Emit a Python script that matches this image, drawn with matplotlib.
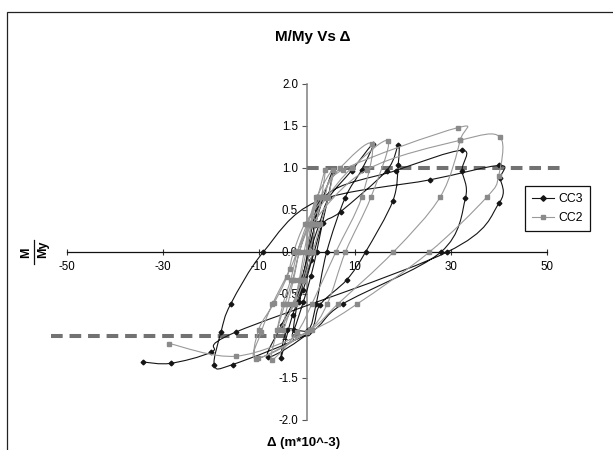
import numpy as np
import matplotlib
matplotlib.use("Agg")
import matplotlib.pyplot as plt
from matplotlib.path import Path
from matplotlib.patches import PathPatch, Rectangle
from matplotlib.lines import Line2D

plt.rcParams['font.family'] = ['Liberation Sans', 'DejaVu Sans']

# ---- data -------------------------------------------------------------
# CC3 specimen: displacement (m*10^-3) and normalised moment M/My
cc3_x = [0, 1.2, 2.4, 1.6, 0.6, -0.6, -1.6, -0.8, 0.2,
         1.8, 3.4, 5.4, 4.4, 3.2, 2.0, 0.8, -0.8, -2.8, -2.0, -1.0, 0.6,
         2.6, 4.6, 9.3, 13.8, 11.4, 7.9, 4.1, 1.9, 0.2, -4.1, -5.4, -3.0, -0.8, 1.5,
         3.4, 7.0, 16.6, 19.0, 19.0, 17.9, 12.2, 8.3, 2.7, 0.5, -8.1, -5.3, -2.0, 0.8,
         3.7, 18.5, 32.3, 32.3, 33.0, 27.9, 7.4, 0.3, -15.5, -19.3, -17.9, -15.9, -9.1,
         2.0, 25.7, 40.1, 40.3, 40.0, 29.2, -14.7, -19.9, -28.4, -34.1]
cc3_y = [0, 0.33, 0.64, 0.32, 0, -0.30, -0.60, -0.30, 0,
         0.34, 0.65, 0.97, 0.65, 0.34, 0, -0.29, -0.60, -0.93, -0.60, -0.30, 0,
         0.34, 0.65, 0.97, 1.29, 0.98, 0.64, 0, -0.62, -0.93, -0.93, -1.26, -0.75, -0.45, 0,
         0.34, 0.48, 0.97, 1.27, 1.04, 0.61, 0, -0.33, -0.63, -0.95, -1.25, -0.87, -0.50, -0.10,
         0.66, 0.97, 1.21, 0.97, 0.64, 0, -0.62, -0.97, -1.34, -1.35, -0.95, -0.62, 0,
         0.60, 0.86, 1.03, 0.88, 0.58, 0, -0.95, -1.19, -1.325, -1.31]

# CC2 specimen
cc2_x = [0, 0.8, 1.8, 1.0, -0.2, -1.4, -2.6, -1.6, -0.6,
         0.6, 2.2, 3.8, 3.0, 1.8, 0.6, -1.0, -3.0, -5.0, -4.0, -2.8, -1.6,
         0.2, 2.0, 5.4, 4.4, 2.8, 1.2, -0.6, -2.6, -6.0, -5.0, -3.4, -2.0,
         0.0, 2.8, 6.9, 13.5, 11.4, 6.0, 1.0, -2.0, -7.3, -6.2, -4.6, -3.0, -1.6,
         0.6, 4.0, 9.3, 16.9, 13.3, 8.0, 4.2, 0.0, -10.2, -10.1, -6.9, -4.2, -2.8,
         -0.5, 3.5, 7.5, 31.4, 31.9, 27.8, 18.0, 6.4, 0.6, -10.6, -9.5, -7.2, -3.5,
         1.0, 12.5, 31.9, 40.2, 39.9, 37.4, 25.5, 10.4, 1.0, -14.7, -28.7]
cc2_y = [0, 0.33, 0.65, 0.33, 0, -0.33, -0.62, -0.33, 0,
         0.33, 0.65, 0.98, 0.65, 0.33, 0, -0.33, -0.62, -0.93, -0.62, -0.33, 0,
         0.33, 0.65, 0.98, 0.65, 0.33, 0, -0.33, -0.62, -0.93, -0.62, -0.33, 0,
         0.33, 0.65, 1.00, 1.29, 0.65, 0, -0.62, -0.95, -1.28, -0.93, -0.62, -0.33, 0,
         0.33, 0.64, 1.00, 1.32, 0.65, 0, -0.62, -0.95, -1.26, -0.93, -0.61, -0.30, 0,
         0.33, 0.65, 0.98, 1.48, 1.33, 0.66, 0, -0.62, -0.93, -1.27, -0.95, -0.62, -0.20,
         0.33, 0.98, 1.33, 1.37, 0.90, 0.65, 0, -0.62, -0.93, -1.24, -1.09]

# yield levels M/My = +1 and -1
yield_pos_x = [0, 54]
yield_pos_y = [1.0, 1.0]
yield_neg_x = [-53.3, 0.5]
yield_neg_y = [-1.0, -1.0]

x_ticks = [-50, -30, -10, 10, 30, 50]
y_ticks = [-2.0, -1.5, -1.0, -0.5, 0.0, 0.5, 1.0, 1.5, 2.0]

series = [
    ("CC3", cc3_x, cc3_y, "#151515", "#151515", "D", 2.4),
    ("CC2", cc2_x, cc2_y, "#9a9a9a", "#8a8a8a", "s", 2.3),
]


def smooth_path(xs, ys):
    """Cubic Bezier path through the points (Catmull-Rom style smoothing)."""
    pts = np.column_stack([xs, ys]).astype(float)
    n = len(pts)
    verts = [pts[0]]
    codes = [Path.MOVETO]
    for i in range(n - 1):
        p0 = pts[max(i - 1, 0)]
        p1 = pts[i]
        p2 = pts[i + 1]
        p3 = pts[min(i + 2, n - 1)]
        c1 = p1 + (p2 - p0) / 6.0
        c2 = p2 - (p3 - p1) / 6.0
        verts += [c1, c2, p2]
        codes += [Path.CURVE4] * 3
    return Path(verts, codes)


W, H = 613, 450
fig = plt.figure(figsize=(W / 100, H / 100), dpi=100)

# axes placed so that x=0 sits at 307 px and y=0 at 252 px
left_px, right_px, top_px, bot_px = 40, 600, 60, 425
ax = fig.add_axes([left_px / W, 1 - bot_px / H, (right_px - left_px) / W, (bot_px - top_px) / H])
ax.set_xlim((left_px - 307) / 4.8, (right_px - 307) / 4.8)
ax.set_ylim((252 - bot_px) / 84.0, (252 - top_px) / 84.0)
ax.patch.set_visible(False)
ax.set_axisbelow(True)

for s in ("top", "right"):
    ax.spines[s].set_visible(False)
ax.spines["left"].set_position(("data", 0))
ax.spines["bottom"].set_position(("data", 0))
ax.spines["left"].set_bounds(-2, 2)
ax.spines["bottom"].set_bounds(-50, 50)
ax.spines["left"].set_color("#808080")
ax.spines["left"].set_linewidth(1.1)
ax.spines["bottom"].set_color("#111111")
ax.spines["bottom"].set_linewidth(0.9)

ax.set_xticks(x_ticks)
ax.set_xticklabels([f"{v:d}" for v in x_ticks])
ax.set_yticks(y_ticks)
ax.set_yticklabels([f"{v:.1f}" for v in y_ticks])
ax.tick_params(axis="x", direction="inout", length=5, width=0.8, color="#333333",
               labelsize=8.3, pad=4)
ax.tick_params(axis="y", direction="out", length=3.5, width=0.8, color="#555555",
               labelsize=8.3, pad=3)

# yield level reference lines
ax.plot(yield_pos_x, yield_pos_y, color="#727272", lw=2.9, ls=(0, (2.9, 1.7)),
        solid_capstyle="butt", dash_capstyle="butt", zorder=3)
ax.plot(yield_neg_x, yield_neg_y, color="#727272", lw=2.9, ls=(0, (2.9, 1.7)),
        solid_capstyle="butt", dash_capstyle="butt", zorder=3)

handles = []
for k, (name, xs, ys, lc, mc, mk, ms) in enumerate(series):
    z = 3.2 + k * 0.5
    ax.add_patch(PathPatch(smooth_path(xs, ys), facecolor="none", edgecolor=lc,
                           lw=0.8, zorder=z))
    ax.plot(xs, ys, ls="none", marker=mk, ms=ms, mfc=mc, mec=mc, zorder=z + 0.1)
    handles.append(Line2D([], [], color=lc, lw=0.8, marker=mk, ms=ms + 0.4,
                          mfc=mc, mec=mc, label=name))

leg = ax.legend(handles=handles, loc="center left",
                bbox_to_anchor=(525 / W, 1 - 208.5 / H), bbox_transform=fig.transFigure,
                fontsize=8.8, frameon=True, fancybox=False, framealpha=1,
                edgecolor="#111111", handlelength=1.8, handletextpad=0.3,
                borderpad=0.6, labelspacing=0.55, borderaxespad=0)
leg.get_frame().set_linewidth(0.9)

# titles
fig.text(313 / W, 1 - 37 / H, "M/My Vs Δ", ha="center", va="center",
         fontsize=11, fontweight="bold")
fig.text(304 / W, 1 - 443 / H, "Δ (m*10^-3)", ha="center", va="center",
         fontsize=9.5, fontweight="bold")

# y label as a stacked fraction M / My, rotated
fig.text(26 / W, 1 - 253 / H, "M", rotation=90, ha="center", va="center",
         fontsize=9, fontweight="bold")
fig.text(43 / W, 1 - 249 / H, "My", rotation=90, ha="center", va="center",
         fontsize=9, fontweight="bold")
fig.add_artist(Line2D([34 / W, 34 / W], [1 - 264 / H, 1 - 240 / H],
                      color="#111111", lw=0.9, transform=fig.transFigure))

# outer chart border
fig.add_artist(Rectangle((7 / W, -0.05), 1.1, 1 - 12 / H + 0.05, fill=False,
                         edgecolor="#222222", lw=0.9, transform=fig.transFigure))

fig.savefig("out.png", dpi=100)
